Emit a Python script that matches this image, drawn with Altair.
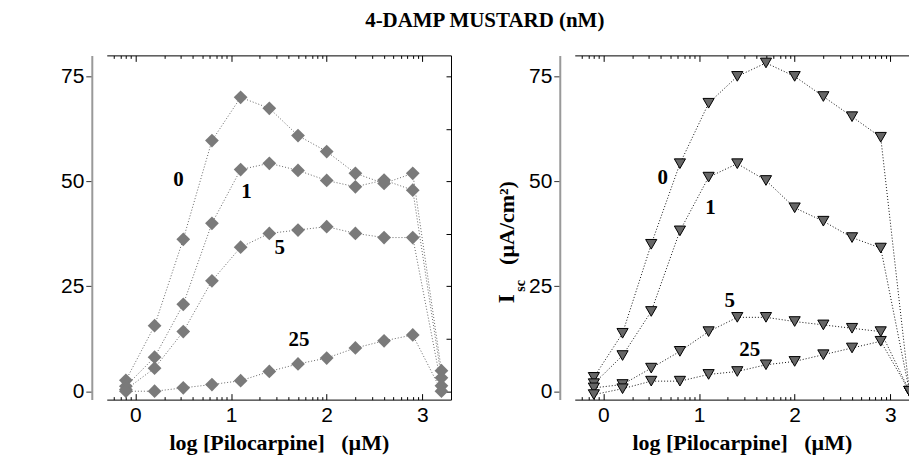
import altair as alt
import pandas as pd
import numpy as np

# x positions: log [Pilocarpine] (uM)
x_log = [-0.1, 0.2, 0.5, 0.8, 1.1, 1.4, 1.7, 2.0, 2.3, 2.6, 2.9, 3.2]
series_names = ["0", "1", "5", "25"]

# Left panel (diamonds)
left_0 = [2.6, 15.6, 36.2, 59.7, 70.0, 67.4, 60.9, 57.1, 51.9, 49.5, 51.9, 4.9]
left_1 = [1.2, 8.1, 20.7, 40.0, 52.8, 54.3, 52.6, 50.2, 48.7, 50.3, 47.9, 3.2]
left_5 = [0.4, 5.5, 14.2, 26.3, 34.3, 37.6, 38.4, 39.2, 37.6, 36.6, 36.6, 1.3]
left_25 = [0.0, 0.0, 0.8, 1.6, 2.5, 4.7, 6.5, 7.9, 10.3, 12.0, 13.4, 0.0]

# Right panel (triangles)
right_0 = [3.3, 13.8, 35.0, 54.2, 68.6, 75.0, 78.2, 75.0, 70.2, 65.4, 60.5, 0.0]
right_1 = [1.8, 8.5, 19.0, 38.2, 51.0, 54.2, 50.2, 43.7, 40.5, 36.6, 34.1, 0.0]
right_5 = [0.8, 1.6, 5.5, 9.5, 14.2, 17.6, 17.6, 16.6, 15.8, 15.0, 14.2, 0.0]
right_25 = [-0.8, 0.6, 2.4, 2.4, 4.0, 4.7, 6.3, 7.1, 8.7, 10.3, 11.9, 0.0]

# Curve annotations (data units)
left_label_x = [0.45, 1.16, 1.51, 1.71]
left_label_y = [50.3, 47.4, 34.1, 12.3]
right_label_x = [0.62, 1.12, 1.32, 1.53]
right_label_y = [50.7, 43.6, 21.4, 9.9]

y_major = [0, 25, 50, 75]
y_frame_ticks = [0, 12.5, 25, 37.5, 50, 62.5, 75]
x_major = [0, 1, 2, 3]

TITLE = "4-DAMP MUSTARD (nM)"
X_TITLE = "log [Pilocarpine]\u00a0\u00a0\u00a0(µM)"

H = 345
W_L = 345
W_R = 335
XMIN = -0.3
PX_PER_UNIT = W_L / 3.6
XMAX_L = 3.3
XMAX_R = XMIN + W_R / PX_PER_UNIT


def long_df(vals):
    rows = []
    for name, ys in zip(series_names, vals):
        for xv, yv in zip(x_log, ys):
            rows.append({"x": xv, "y": yv, "series": name})
    return pd.DataFrame(rows)


def label_df(xs, ys):
    return pd.DataFrame({"x": xs, "y": ys, "label": series_names})


def log_ticks(xmax):
    vals = []
    for d in range(-1, 4):
        for k in range(1, 10):
            v = round(d + float(np.log10(k)), 5)
            if XMIN - 1e-9 <= v <= xmax + 1e-9:
                vals.append(v)
    return sorted(vals)


TICK_COND = {"condition": {"test": "abs(datum.value - round(datum.value)) < 0.001", "value": 6}, "value": 3}
SANS = "Liberation Sans"
SERIF = "Liberation Serif"


def panel(df, lab, width, xmax, point_kwargs, line_color, right_frame, ytitle):
    xs = alt.Scale(domain=[XMIN, xmax], nice=False, zero=False)
    ys = alt.Scale(domain=[-2, 80], nice=False, zero=False)
    ticks_all = log_ticks(xmax)

    lines = alt.Chart(df).mark_line(
        strokeDash=[1, 2], strokeWidth=1, color=line_color, clip=True
    ).encode(
        x=alt.X("x:Q", scale=xs, axis=alt.Axis(
            orient="bottom", values=x_major, ticks=False, domain=True,
            domainColor="black", domainWidth=1, labelFont=SANS, labelFontSize=21,
            labelColor="black", labelPadding=5, labelFlush=False, grid=False,
            title=X_TITLE, titleFont=SERIF, titleFontWeight="bold", titleFontSize=22,
            titleColor="black", titlePadding=7)),
        y=alt.Y("y:Q", scale=ys, axis=alt.Axis(
            orient="left", offset=15, values=y_major, domainColor="#999999",
            domainWidth=2, tickColor="#333", tickSize=6, tickWidth=1,
            labelFont=SANS, labelFontSize=21, labelColor="black", labelPadding=2,
            grid=False, title=None)),
        detail="series:N",
    )

    y_right = alt.Axis(
        orient="left", offset=-width, values=y_frame_ticks, labels=False,
        domain=True, domainColor="black", domainWidth=1, tickColor="black",
        tickSize=5, grid=False, title=None) if right_frame else None

    points = alt.Chart(df).mark_point(clip=True, opacity=1, **point_kwargs).encode(
        x=alt.X("x:Q", scale=xs, axis=alt.Axis(
            orient="top", offset=-H, values=ticks_all, labels=False, domain=False,
            tickColor="black", tickSize=TICK_COND, tickWidth=1, grid=False, title=None)),
        y=alt.Y("y:Q", scale=ys, axis=y_right),
    )

    texts = alt.Chart(lab).mark_text(
        font=SERIF, fontWeight="bold", fontSize=21, color="black"
    ).encode(
        x=alt.X("x:Q", scale=xs, axis=alt.Axis(
            orient="bottom", offset=-H, values=ticks_all, labels=False, domain=True,
            domainColor="black", domainWidth=1, tickColor="black",
            tickSize=TICK_COND, tickWidth=1, grid=False, title=None)),
        y=alt.Y("y:Q", scale=ys, axis=None),
        text="label:N",
    )

    layers = [lines, points, texts]
    if ytitle:
        tdf = pd.DataFrame({"t": ["(µA/cm²)", "sc", "I"],
                            "px": [-68, -54, -68], "py": [168, 231, 244],
                            "fs": [22, 14, 23]})
        for i in range(3):
            layers.append(
                alt.Chart(tdf.iloc[[i]]).mark_text(
                    font=SERIF, fontWeight="bold", fontSize=int(tdf.fs[i]),
                    angle=270, align="center", baseline="middle", color="black"
                ).encode(x=alt.value(int(tdf.px[i])), y=alt.value(int(tdf.py[i])),
                         text="t:N")
            )

    return alt.layer(*layers).resolve_axis(x="independent", y="independent").properties(
        width=width, height=H)


left = panel(
    long_df([left_0, left_1, left_5, left_25]),
    label_df(left_label_x, left_label_y), W_L, XMAX_L,
    dict(shape="diamond", filled=True, size=190, color="#7a7a7a"),
    "#666666", True, False)

right = panel(
    long_df([right_0, right_1, right_5, right_25]),
    label_df(right_label_x, right_label_y), W_R, XMAX_R,
    dict(shape="triangle-down", filled=True, size=125, fill="#666666",
         stroke="black", strokeWidth=1),
    "#111111", False, True)

chart = alt.hconcat(left, right, spacing=124, bounds="flush").properties(
    title=alt.TitleParams(TITLE, font=SERIF, fontWeight="bold", fontSize=21,
                          color="black", anchor="middle", offset=24),
    padding={"left": 60, "top": 9, "right": 0, "bottom": 2},
).configure_view(stroke=None)

chart.save("out.html", embed_options={"renderer": "svg", "actions": False})
